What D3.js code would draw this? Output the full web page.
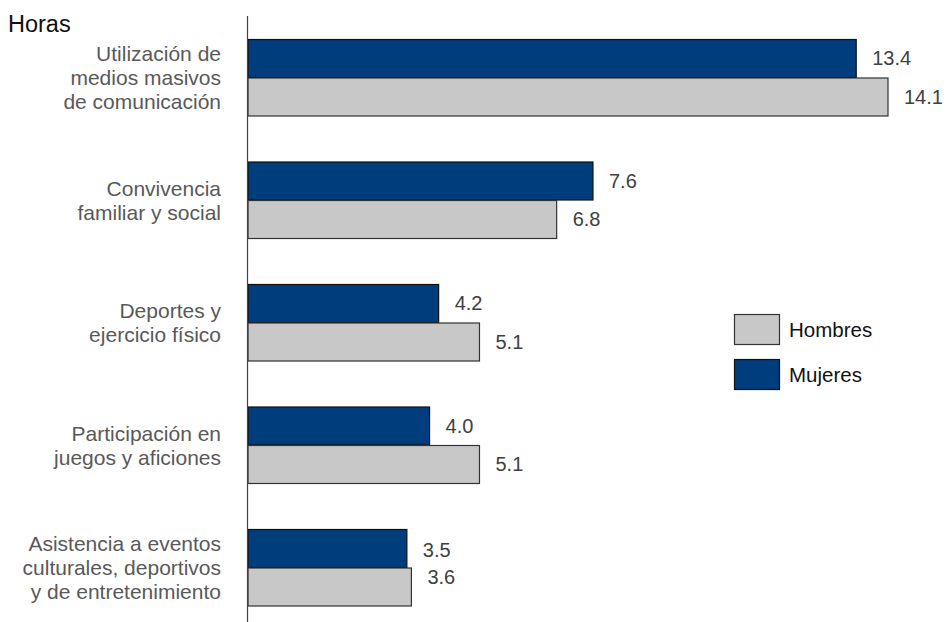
<!DOCTYPE html>
<html><head><meta charset="utf-8">
<script src="https://cdn.jsdelivr.net/npm/d3@7"></script>
<style>body{margin:0;background:#fff}svg{display:block}text{font-family:"Liberation Sans",Arial,sans-serif}</style>
</head><body><svg id="c" width="946" height="622"></svg>
<script>
const categories = [
  ["Utilización de","medios masivos","de comunicación"],
  ["Convivencia","familiar y social"],
  ["Deportes y","ejercicio físico"],
  ["Participación en","juegos y aficiones"],
  ["Asistencia a eventos","culturales, deportivos","y de entretenimiento"]
];
const mujeres = [13.4, 7.6, 4.2, 4.0, 3.5];
const hombres = [14.1, 6.8, 5.1, 5.1, 3.6];
const seriesNames = ["Mujeres","Hombres"];
const legendNames = ["Hombres","Mujeres"];
const colors = {Mujeres:"#003D7C", Hombres:"#C8C8C8"};
const strokes = {Mujeres:"#111", Hombres:"#333"};
const yLabel = "Horas";

const svg = d3.select("#c");
const keys = categories.map((c,i)=>i);
const x = d3.scaleLinear().domain([0,14.1]).range([248,888]);
const y = d3.scaleBand().domain(keys).range([16.25,628.75]).paddingInner(0.3714).paddingOuter(0.1857);
const ys = d3.scaleBand().domain(seriesNames).range([0,y.bandwidth()]);
const vals = {Mujeres:mujeres, Hombres:hombres};

keys.forEach(i=>{
  const g = svg.append("g").attr("transform",`translate(0,${y(i)})`);
  seriesNames.forEach(s=>{
    g.append("rect").attr("x",x(0)).attr("y",ys(s)+0.5)
      .attr("width",x(vals[s][i])-x(0)).attr("height",ys.bandwidth()-0.5)
      .attr("fill",colors[s]).attr("stroke",strokes[s]).attr("stroke-width",1.2);
    let cy = ys(s)+ys.bandwidth()/2;
    const diff = Math.abs(mujeres[i]-hombres[i]);
    if (diff < 0.5) cy += (s==="Mujeres" ? 2 : -10);
    g.append("text").attr("x",x(vals[s][i])+16).attr("y",cy).attr("dy","0.36em")
      .attr("font-size",20).attr("fill","#404040").text(d3.format(".1f")(vals[s][i]));
  });
  const lines = categories[i];
  const lh = 24;
  const c = y(i)+y.bandwidth()/2;
  lines.forEach((l,j)=>{
    svg.append("text").attr("x",221).attr("y",c+(j-(lines.length-1)/2)*lh).attr("dy","0.36em")
      .attr("text-anchor","end").attr("font-size",21).attr("fill","#595959").text(l);
  });
});

svg.append("line").attr("x1",247.5).attr("x2",247.5).attr("y1",16).attr("y2",622)
  .attr("stroke","#444").attr("stroke-width",1.2);

svg.append("text").attr("x",8).attr("y",32).attr("font-size",23.5).attr("fill","#111").text(yLabel);

legendNames.forEach((s,k)=>{
  const ly = 314 + k*45;
  svg.append("rect").attr("x",734.5).attr("y",ly+0.5).attr("width",45).attr("height",30)
    .attr("fill",colors[s]).attr("stroke",s==="Mujeres"?"#111":"#333").attr("stroke-width",1.2);
  svg.append("text").attr("x",789).attr("y",ly+15.5).attr("dy","0.36em").attr("font-size",20.5)
    .attr("fill","#111").text(s);
});
</script></body></html>
